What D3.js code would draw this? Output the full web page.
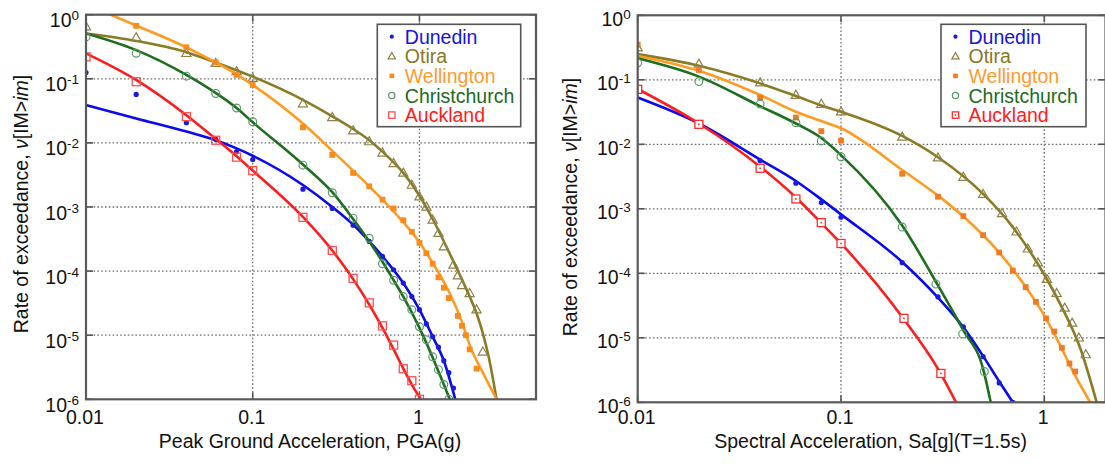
<!DOCTYPE html>
<html><head><meta charset="utf-8">
<script src="https://cdn.jsdelivr.net/npm/d3@7"></script>
<style>body{margin:0;background:#fff} svg{display:block} text{font-family:"Liberation Sans",Arial,Helvetica,sans-serif}</style>
</head><body><svg id="c" width="1105" height="465"></svg>
<script>
// ---------- data ----------
const seriesNames = ["Dunedin","Otira","Wellington","Christchurch","Auckland"];
const xTicksPGA = [0.01,0.1,1];
const xTickLabelsPGA = ["0.01","0.1","1"];
const xTicksSa = [0.01,0.1,1];
const xTickLabelsSa = ["0.01","0.1","1"];
const yTickExponents = [0,-1,-2,-3,-4,-5,-6];

// Left panel: PGA
const pgaDunedinPts = [[0.01,0.125],[0.02,0.057],[0.04,0.0207],[0.06,0.0114],[0.08,0.0073],[0.1,0.0055],[0.2,0.0019],[0.3,9.5e-4],[0.4,5.2e-4],[0.5,2.9e-4],[0.6,1.7e-4],[0.7,1.05e-4],[0.8,6.5e-5],[0.9,4e-5],[1.0,2.5e-5],[1.1,1.5e-5],[1.2,9.5e-6],[1.3,6.5e-6],[1.4,4e-6],[1.5,2.6e-6],[1.6,1.5e-6]];
const pgaDunedinFit = [[0.01,0.039],[0.02,0.024],[0.04,0.015],[0.06,0.011],[0.08,0.0082],[0.1,0.0063],[0.2,0.0022],[0.3,0.001],[0.4,5.3e-4],[0.5,2.9e-4],[0.6,1.7e-4],[0.8,6.5e-5],[1.0,2.5e-5],[1.2,9.5e-6],[1.4,4e-6],[1.64,1e-6]];
const pgaOtiraPts = [[0.01,0.65],[0.02,0.44],[0.04,0.25],[0.06,0.175],[0.08,0.13],[0.1,0.102],[0.2,0.041],[0.3,0.025],[0.4,0.0155],[0.5,0.0105],[0.6,0.007],[0.7,0.0048],[0.8,0.0034],[0.9,0.0022],[1.0,0.00145],[1.1,0.001],[1.2,6.3e-4],[1.3,3.9e-4],[1.4,2.4e-4],[1.6,1.25e-4],[1.7,8.5e-5],[1.8,6e-5],[2.0,4.5e-5],[2.2,2.5e-5],[2.4,5.5e-6]];
const pgaOtiraFit = [[0.01,0.51],[0.02,0.39],[0.04,0.26],[0.06,0.18],[0.1,0.108],[0.2,0.047],[0.3,0.026],[0.4,0.0165],[0.5,0.011],[0.6,0.0073],[0.8,0.0034],[1.0,0.0015],[1.2,6.5e-4],[1.5,2e-4],[2.0,4e-5],[2.2,2.2e-5],[2.4,1.07e-5],[2.6,4.6e-6],[2.9,1e-6]];
const pgaWellingtonPts = [[0.02,0.67],[0.04,0.31],[0.06,0.18],[0.08,0.115],[0.1,0.08],[0.2,0.0175],[0.3,0.0065],[0.4,0.0034],[0.5,0.0021],[0.6,0.0013],[0.7,9.5e-4],[0.8,6.2e-4],[0.9,4.1e-4],[1.0,2.75e-4],[1.1,1.9e-4],[1.2,1.3e-4],[1.3,8e-5],[1.4,5.5e-5],[1.5,3.8e-5],[1.7,2e-5],[1.8,1.4e-5],[1.9,1.0e-5],[2.0,6e-6],[2.2,3e-6]];
const pgaWellingtonFit = [[0.01,1.45],[0.02,0.68],[0.04,0.31],[0.06,0.18],[0.08,0.117],[0.1,0.08],[0.2,0.02],[0.3,0.0075],[0.4,0.0037],[0.5,0.0021],[0.6,0.0013],[0.7,8.5e-4],[0.8,5.8e-4],[1.0,2.8e-4],[1.2,1.35e-4],[1.5,4.8e-5],[1.8,1.6e-5],[2.0,7e-6],[2.4,2.6e-6],[2.9,1e-6]];
const pgaChristchurchPts = [[0.01,0.45],[0.02,0.25],[0.04,0.11],[0.06,0.059],[0.08,0.035],[0.1,0.0214],[0.2,0.0045],[0.3,0.00167],[0.4,6.7e-4],[0.5,3.25e-4],[0.6,1.3e-4],[0.7,7.2e-5],[0.8,4e-5],[0.9,2.5e-5],[1.0,1.35e-5],[1.1,8.5e-6],[1.2,4.6e-6],[1.3,2.9e-6],[1.4,1.7e-6],[1.5,1e-6]];
const pgaChristchurchFit = [[0.01,0.51],[0.02,0.28],[0.04,0.115],[0.06,0.06],[0.08,0.035],[0.1,0.021],[0.2,0.0046],[0.3,0.0017],[0.4,6.5e-4],[0.5,2.9e-4],[0.6,1.4e-4],[0.7,7.2e-5],[0.8,4e-5],[1.0,1.3e-5],[1.2,4.5e-6],[1.4,1.7e-6],[1.52,1e-6]];
const pgaAucklandPts = [[0.01,0.22],[0.02,0.09],[0.04,0.0256],[0.06,0.011],[0.08,0.006],[0.1,0.0037],[0.2,6.9e-4],[0.3,2.1e-4],[0.4,7.7e-5],[0.5,3.2e-5],[0.6,1.4e-5],[0.7,7e-6],[0.8,3e-6],[0.9,1.95e-6],[1.0,1e-6]];
const pgaAucklandFit = [[0.01,0.25],[0.02,0.096],[0.04,0.027],[0.06,0.0115],[0.08,0.0062],[0.1,0.0037],[0.2,7e-4],[0.3,2.1e-4],[0.4,7.5e-5],[0.5,3e-5],[0.6,1.3e-5],[0.7,6e-6],[0.8,3e-6],[0.9,1.7e-6],[1.02,1e-6]];

// Right panel: Sa(T=1.5s)
const saDunedinPts = [[0.02,0.0205],[0.04,0.0056],[0.06,0.0025],[0.08,0.00125],[0.1,7.4e-4],[0.2,1.46e-4],[0.3,4.3e-5],[0.4,1.48e-5],[0.5,5.1e-6],[0.6,2.0e-6],[0.7,1e-6]];
const saDunedinFit = [[0.01,0.053],[0.02,0.021],[0.04,0.0058],[0.06,0.0027],[0.08,0.0014],[0.1,8.2e-4],[0.2,1.5e-4],[0.3,4.2e-5],[0.4,1.45e-5],[0.5,5.2e-6],[0.6,2.1e-6],[0.7,1e-6]];
const saOtiraPts = [[0.01,0.315],[0.02,0.176],[0.04,0.09],[0.06,0.058],[0.08,0.042],[0.1,0.032],[0.2,0.013],[0.3,0.0062],[0.4,0.0031],[0.5,0.00168],[0.62,8.5e-4],[0.73,4.4e-4],[0.83,2.4e-4],[0.93,1.46e-4],[1.03,8.1e-5],[1.15,4.9e-5],[1.26,2.9e-5],[1.37,1.7e-5],[1.48,1e-5],[1.6,5.5e-6]];
const saOtiraFit = [[0.01,0.25],[0.02,0.165],[0.04,0.088],[0.06,0.056],[0.08,0.04],[0.1,0.032],[0.2,0.0135],[0.3,0.0063],[0.5,0.0017],[0.7,5.2e-4],[1.0,9.5e-5],[1.2,3.3e-5],[1.5,7e-6],[1.81,1e-6]];
const saWellingtonPts = [[0.01,0.35],[0.02,0.142],[0.04,0.053],[0.06,0.026],[0.08,0.016],[0.1,0.0114],[0.2,0.0035],[0.3,0.00154],[0.4,7.7e-4],[0.5,3.9e-4],[0.6,2.1e-4],[0.7,1.1e-4],[0.81,6.1e-5],[0.91,3.6e-5],[1.02,2e-5],[1.12,1.25e-5],[1.22,7e-6],[1.33,4e-6],[1.42,3e-6]];
const saWellingtonFit = [[0.01,0.234],[0.02,0.138],[0.04,0.058],[0.06,0.032],[0.08,0.023],[0.1,0.0177],[0.2,0.004],[0.3,0.0016],[0.4,7.6e-4],[0.6,2.1e-4],[0.8,6.5e-5],[1.0,2.2e-5],[1.2,7.5e-6],[1.4,2.8e-6],[1.68,1e-6]];
const saChristchurchPts = [[0.01,0.184],[0.02,0.094],[0.04,0.042],[0.06,0.0216],[0.08,0.0113],[0.1,0.0064],[0.2,5.2e-4],[0.293,6.8e-5],[0.397,1.15e-5],[0.507,3e-6]];
const saChristchurchFit = [[0.01,0.215],[0.02,0.112],[0.04,0.039],[0.06,0.021],[0.08,0.0125],[0.1,0.0068],[0.2,5.5e-4],[0.3,6.5e-5],[0.4,1.3e-5],[0.5,3.3e-6],[0.545,1e-6]];
const saAucklandPts = [[0.01,0.071],[0.02,0.0204],[0.04,0.00425],[0.06,0.00142],[0.08,6.1e-4],[0.1,2.9e-4],[0.204,2e-5],[0.31,2.8e-6]];
const saAucklandFit = [[0.01,0.072],[0.02,0.021],[0.04,0.0045],[0.06,0.0015],[0.08,6e-4],[0.1,2.9e-4],[0.2,2.1e-5],[0.3,3.3e-6],[0.368,1e-6]];

// ---------- styles ----------
const styles = {
  Dunedin:      {line:"#0a0af0", mark:"#1a1adf", markR:"#1a1adf", text:"#1414d8", shape:"dot"},
  Otira:        {line:"#8a7b25", mark:"#8c8248", markR:"#8c8248", text:"#857828", shape:"tri"},
  Wellington:   {line:"#ff9b22", mark:"#f98a1c", markR:"#f27a22", text:"#ff9a2e", shape:"fsq"},
  Christchurch: {line:"#1d6e1d", mark:"#5a9a6c", markR:"#5a9a6c", text:"#1d6b1d", shape:"circ"},
  Auckland:     {line:"#ff1c1c", mark:"#ff5050", markR:"#ff2a2a", text:"#ff1c1c", shape:"osq"}
};

const panels = [
  {id:"L", x0:86, x1:536, y0:14.7, y1:399.3, xmin:0.01, xmax:5,
   xTicks:xTicksPGA, xLabels:xTickLabelsPGA, title:"Peak Ground Acceleration, PGA(g)",
   ylabX:28.3, ylabY:204, yLabOff:12.5, legX:377.3, legY:24.3, legW:143.4, legH:102.4, right:false,
   pts:[pgaDunedinPts,pgaOtiraPts,pgaWellingtonPts,pgaChristchurchPts,pgaAucklandPts],
   fits:[pgaDunedinFit,pgaOtiraFit,pgaWellingtonFit,pgaChristchurchFit,pgaAucklandFit]},
  {id:"R", x0:637.7, x1:1105.5, y0:15.3, y1:402.3, xmin:0.01, xmax:2,
   xTicks:xTicksSa, xLabels:xTickLabelsSa, title:"Spectral Acceleration, Sa[g](T=1.5s)",
   ylabX:576.7, ylabY:207, yLabOff:10.5, legX:941, legY:24.3, legW:145, legH:102.4, right:true,
   pts:[saDunedinPts,saOtiraPts,saWellingtonPts,saChristchurchPts,saAucklandPts],
   fits:[saDunedinFit,saOtiraFit,saWellingtonFit,saChristchurchFit,saAucklandFit]}
];

const svg = d3.select("#c");
svg.append("rect").attr("width",1105).attr("height",465).attr("fill","#fff");
const defs = svg.append("defs");

function marker(g, shape, x, y, color, scale, rightPanel){
  scale = scale || 1;
  if (shape==="dot"){
    g.append("circle").attr("cx",x).attr("cy",y).attr("r",2.6*scale).attr("fill",color);
  } else if (shape==="tri"){
    const s=4.6*scale;
    g.append("path").attr("d",`M${x},${y-s*1.05}L${x+s},${y+s*0.7}L${x-s},${y+s*0.7}Z`)
      .attr("fill","none").attr("stroke",color).attr("stroke-width",1.2);
  } else if (shape==="fsq"){
    const s=2.9*scale;
    g.append("rect").attr("x",x-s).attr("y",y-s).attr("width",2*s).attr("height",2*s).attr("fill",color);
  } else if (shape==="circ"){
    g.append("circle").attr("cx",x).attr("cy",y).attr("r",3.9*scale).attr("fill","none").attr("stroke",color).attr("stroke-width",1.2);
  } else if (shape==="osq"){
    const s=4*scale;
    g.append("rect").attr("x",x-s).attr("y",y-s).attr("width",2*s).attr("height",2*s)
      .attr("fill", rightPanel ? "#fff" : "none").attr("stroke",color).attr("stroke-width",1.3);
    if (rightPanel) g.append("rect").attr("x",x-0.8).attr("y",y-0.8).attr("width",1.6).attr("height",1.6).attr("fill",color);
  }
}

panels.forEach(p => {
  const x = d3.scaleLog().domain([p.xmin,p.xmax]).range([p.x0,p.x1]);
  const y = d3.scaleLog().domain([1e-6,1]).range([p.y1,p.y0]);
  const g = svg.append("g");
  const clipId = "clip"+p.id;
  defs.append("clipPath").attr("id",clipId).append("rect")
    .attr("x",p.x0).attr("y",p.y0).attr("width",p.x1-p.x0).attr("height",p.y1-p.y0);

  // grid
  const grid = g.append("g").attr("stroke","#6e6e6e").attr("stroke-width",1.3).attr("stroke-dasharray","1.6,2.2");
  yTickExponents.filter(e=>e<0 && e>-6).forEach(e=>{
    grid.append("line").attr("x1",p.x0).attr("x2",p.x1).attr("y1",y(Math.pow(10,e))).attr("y2",y(Math.pow(10,e)));
  });
  p.xTicks.filter(t=>t>p.xmin).forEach(t=>{
    grid.append("line").attr("x1",x(t)).attr("x2",x(t)).attr("y1",p.y0).attr("y2",p.y1);
  });

  // tick marks (inward) on all sides
  const tk = g.append("g").attr("stroke","#555").attr("stroke-width",1.6);
  yTickExponents.forEach(e=>{
    const yy=y(Math.pow(10,e));
    tk.append("line").attr("x1",p.x0).attr("x2",p.x0+7).attr("y1",yy).attr("y2",yy);
    tk.append("line").attr("x1",p.x1-7).attr("x2",p.x1).attr("y1",yy).attr("y2",yy);
  });
  p.xTicks.forEach(t=>{
    const xx=x(t);
    tk.append("line").attr("x1",xx).attr("x2",xx).attr("y1",p.y0).attr("y2",p.y0+7);
    tk.append("line").attr("x1",xx).attr("x2",xx).attr("y1",p.y1-7).attr("y2",p.y1);
  });

  // series
  const plot = g.append("g").attr("clip-path",`url(#${clipId})`);
  const line = d3.line().x(d=>x(d[0])).y(d=>y(d[1])).curve(d3.curveMonotoneX);
  seriesNames.forEach((name,i)=>{
    const st = styles[name];
    const sg = plot.append("g");
    sg.append("path").datum(p.fits[i]).attr("d",line).attr("fill","none")
      .attr("stroke",st.line).attr("stroke-width",2.6).attr("stroke-linejoin","round");
    const mc = p.right ? st.markR : st.mark;
    p.pts[i].forEach(d=>marker(sg, st.shape, x(d[0]), y(d[1]), mc, 1, p.right));
  });

  // frame
  g.append("rect").attr("x",p.x0).attr("y",p.y0).attr("width",p.x1-p.x0).attr("height",p.y1-p.y0)
    .attr("fill","none").attr("stroke","#5a5a5a").attr("stroke-width",2.2);

  // y tick labels
  yTickExponents.forEach(e=>{
    const yy=y(Math.pow(10,e));
    const t = g.append("text").attr("x",p.x0-7).attr("y",yy+p.yLabOff).attr("text-anchor","end")
      .attr("font-size",19.5).attr("fill","#111");
    t.append("tspan").text("10");
    t.append("tspan").attr("font-size",13.5).attr("dy",-7).text(String(e));
  });
  // x tick labels
  p.xTicks.forEach((t,i)=>{
    g.append("text").attr("x",x(t)-1).attr("y",423.5).attr("text-anchor","middle")
      .attr("font-size",19.5).attr("fill","#111").text(p.xLabels[i]);
  });
  // axis titles
  g.append("text").attr("x",(p.x0+p.x1)/2-1).attr("y",448).attr("text-anchor","middle")
    .attr("font-size",19.5).attr("fill","#111").text(p.title);
  const yl = g.append("text").attr("transform",`translate(${p.ylabX},${p.ylabY}) rotate(-90)`)
    .attr("text-anchor","middle").attr("font-size",19.5).attr("fill","#111");
  yl.append("tspan").text("Rate of exceedance, ");
  yl.append("tspan").attr("font-style","italic").text("ν");
  yl.append("tspan").text("[IM>");
  yl.append("tspan").attr("font-style","italic").text("im");
  yl.append("tspan").text("]");

  // legend
  const lg = g.append("g");
  lg.append("rect").attr("x",p.legX).attr("y",p.legY).attr("width",p.legW).attr("height",p.legH)
    .attr("fill","#fff").attr("stroke","#555").attr("stroke-width",1.6);
  seriesNames.forEach((name,i)=>{
    const st=styles[name];
    const cy = p.legY + 12.4 + i*19.6;
    marker(lg, st.shape, p.legX+14.5, cy, p.right ? st.markR : st.mark, 0.8, p.right);
    lg.append("text").attr("x",p.legX+27.5).attr("y",cy+7).attr("font-size",19.5)
      .attr("fill",st.text).text(name);
  });
});
</script></body></html>
